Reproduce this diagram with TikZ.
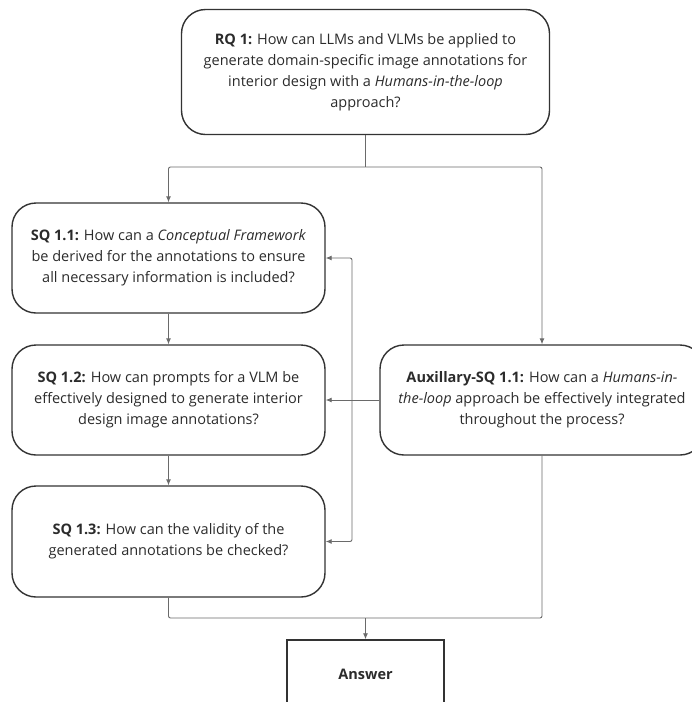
\documentclass[tikz,border=0pt]{standalone}
\usepackage{fontspec}
\setmainfont{Open Sans}
\usetikzlibrary{arrows.meta}

\definecolor{boxline}{HTML}{333333}
\definecolor{wireline}{HTML}{6A6A6A}
\definecolor{txt}{HTML}{2B2B2B}

\tikzset{
    question/.style={draw=boxline, line width=1.4pt, rounded corners=24pt, align=center,
        inner sep=0pt, text=txt, font=\fontsize{14.5}{21}\selectfont},
    answerbox/.style={draw=boxline, line width=1.5pt, align=center, inner sep=0pt,
        text=txt, font=\fontsize{14.5}{21}\selectfont\bfseries},
    wire/.style={draw=wireline, line width=0.9pt, rounded corners=2pt},
}

\begin{document}
\begin{tikzpicture}[x=1pt, y=-1pt, >={Latex[length=6pt,width=5pt]}]
            % Canvas
            \useasboundingbox (0,0) rectangle (692,702);
            \clip (0,0) rectangle (692,702);

            % Main research question
            \node[question, minimum width=368pt, minimum height=125pt] (rq) at (365.5,72)
                {\textbf{RQ 1:} How can LLMs and VLMs be applied to\\
                 generate domain-specific image annotations for\\
                 interior design with a \textit{Humans-in-the-loop}\\
                 approach?};

            % Sub-questions
            \node[question, minimum width=313pt, minimum height=110pt] (sq1) at (168.5,258)
                {\textbf{SQ 1.1:} How can a \textit{Conceptual Framework}\\
                 be derived for the annotations to ensure\\
                 all necessary information is included?};
            \node[question, minimum width=313pt, minimum height=110pt] (sq2) at (168.5,400)
                {\textbf{SQ 1.2:} How can prompts for a VLM be\\
                 effectively designed to generate interior\\
                 design image annotations?};
            \node[question, minimum width=313pt, minimum height=111pt] (sq3) at (168.5,541.5)
                {\textbf{SQ 1.3:} How can the validity of the\\
                 generated annotations be checked?};

            % Auxillary question
            \node[question, minimum width=324pt, minimum height=110pt] (aux) at (542,400)
                {\textbf{Auxillary-SQ 1.1:} How can a \textit{Humans-in-}\\
                 \textit{the-loop} approach be effectively integrated\\
                 throughout the process?};

            % Answer
            \node[answerbox, minimum width=157pt, minimum height=68pt] (ans) at (365.5,674) {Answer};

            % Branch points
            \coordinate (split) at (365.5,167);
            \coordinate (loop) at (352,400);
            \coordinate (merge) at (365.5,618);

            % Split below RQ
            \draw[wire] (rq.south) -- (split);
            \draw[wire, ->] (split) -| (sq1.north);
            \draw[wire, ->] (split) -| (aux.north);

            % Sequence of sub-questions
            \draw[wire, ->] (sq1.south) -- (sq2.north);
            \draw[wire, ->] (sq2.south) -- (sq3.north);

            % Feedback from auxillary question
            \draw[wire, ->] (aux.west) -- (sq2.east);
            \draw[wire, ->] (loop) |- (sq1.east);
            \draw[wire, ->] (loop) |- (sq3.east);

            % Merge into answer
            \draw[wire] (sq3.south) |- (merge);
            \draw[wire] (aux.south) |- (merge);
            \draw[wire, ->] (merge) -- (ans.north);

        \end{tikzpicture}
\end{document}
